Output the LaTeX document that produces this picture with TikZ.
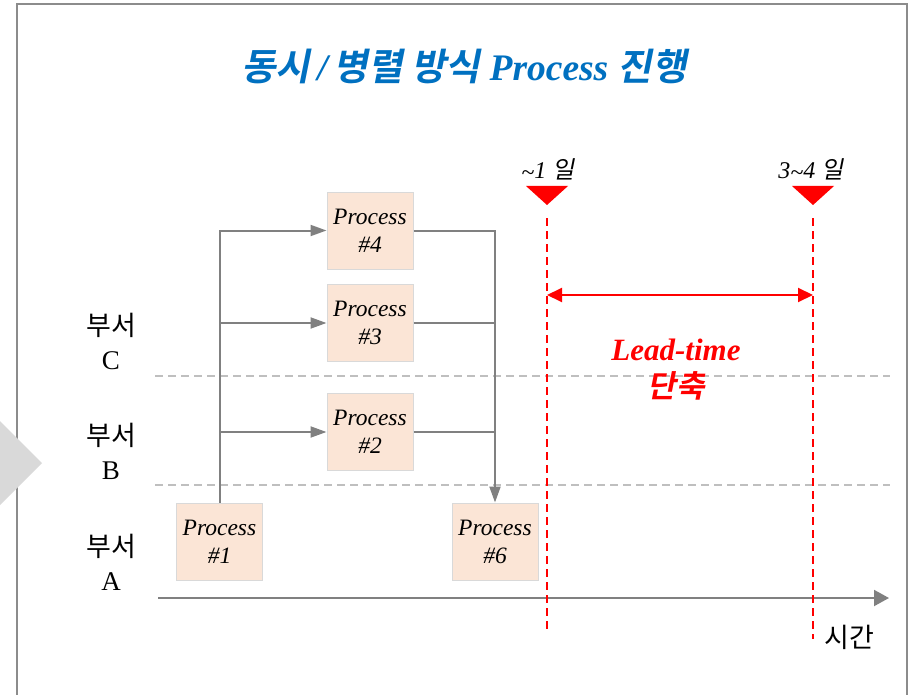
\documentclass[tikz,border=0pt]{standalone}
\usepackage{fontspec}
\usetikzlibrary{arrows.meta}
\setmainfont{Liberation Serif}
\newfontfamily\krfont{Noto Sans CJK KR}
\newfontfamily\krslant[FakeSlant=0.2]{Noto Sans CJK KR}
\newfontfamily\krboldslant[FakeSlant=0.2]{Noto Sans CJK KR Bold}
\definecolor{titleblue}{HTML}{0070C0}
\definecolor{boxfill}{HTML}{FBE5D6}
\definecolor{boxline}{HTML}{D9D9D9}
\definecolor{linegray}{HTML}{808080}
\definecolor{dashgray}{HTML}{BFBFBF}
\definecolor{framegray}{HTML}{8C8C8C}
\definecolor{chevgray}{HTML}{D9D9D9}
\definecolor{leadred}{HTML}{FF0000}
\newcommand{\midtilde}{\raisebox{-2pt}{\textasciitilde}}
\tikzset{
  proc/.style={draw=boxline, line width=1pt, fill=boxfill, minimum width=86pt,
    minimum height=77pt, inner sep=0pt, align=center,
    font=\fontsize{23.5}{28}\selectfont\itshape},
  lane/.style={align=center, inner sep=0pt, font=\fontsize{27}{34}\selectfont},
  conn/.style={draw=linegray, line width=2pt},
  connarrow/.style={conn, -{Triangle[length=16pt,width=11pt]}},
  lanesep/.style={draw=dashgray, line width=1.6pt, dash pattern=on 8pt off 5pt},
  reddash/.style={draw=leadred, line width=2pt, dash pattern=on 8pt off 5pt},
  marklabel/.style={inner sep=0pt, font=\fontsize{24}{28}\selectfont\itshape},
}
\begin{document}
\begin{tikzpicture}[x=1pt,y=-1pt]
\useasboundingbox (0,0) rectangle (912,695);

% slide frame, open at the bottom
\draw[framegray, line width=2.2pt] (17,697) -- (17,4) -- (907,4) -- (907,697);
% chevron on the left edge
\fill[chevgray] (0,421) -- (42,463) -- (0,505) -- cycle;

% title
\node[inner sep=0pt] (title) at (464,66)
  {\fontsize{37.5}{44}\selectfont\color{titleblue}%
   {\krboldslant 동시}\kern7pt{\bfseries\itshape/}\kern6pt{\krboldslant 병렬 방식}
   {\bfseries\itshape Process} {\krboldslant 진행}};

% department separators
\draw[lanesep] (155,376) -- (890,376);
\draw[lanesep] (155,485) -- (890,485);

% department labels
\node[lane] (laneC) at (111,341) {{\krfont 부서}\\C};
\node[lane] (laneB) at (111,451) {{\krfont 부서}\\B};
\node[lane] (laneA) at (111,562) {{\krfont 부서}\\A};

% time axis
\coordinate (axisL) at (158,598);
\coordinate (axisR) at (889,598);
\draw[conn, -{Triangle[length=15pt,width=16pt]}] (axisL) -- (axisR);
\node[inner sep=0pt, font=\fontsize{27}{30}\selectfont\krfont] (time) at (849,637) {시간};

% process boxes
\node[proc] (p1) at (219.5,541.5) {Process\\\#1};
\node[proc] (p4) at (370,230.5) {Process\\\#4};
\node[proc] (p3) at (370,323) {Process\\\#3};
\node[proc] (p2) at (370,432) {Process\\\#2};
\node[proc] (p6) at (495,541.5) {Process\\\#6};

% fan-out from process 1
\draw[connarrow] (p1.north) |- (p4.west);
\draw[connarrow] (p1.north |- p3.west) -- (p3.west);
\draw[connarrow] (p1.north |- p2.west) -- (p2.west);
% merge into process 6
\draw[connarrow] (p4.east) -| (p6.north);
\draw[conn] (p3.east) -- (p3.east -| p6.north);
\draw[conn] (p2.east) -- (p2.east -| p6.north);

% lead-time markers
\coordinate (m1) at (547,186);
\coordinate (m2) at (813,186);
\fill[leadred] (m1) ++(-21,0) -- ++(42,0) -- ++(-21,19) -- cycle;
\fill[leadred] (m2) ++(-21,0) -- ++(42,0) -- ++(-21,19) -- cycle;
\node[marklabel] (l1) at (548,170) {\midtilde1 {\krslant 일}};
\node[marklabel] (l2) at (811,170) {3\midtilde4 {\krslant 일}};

\coordinate (d1top) at (547,218);
\coordinate (d1bot) at (547,632);
\coordinate (d2top) at (813,218);
\coordinate (d2bot) at (813,639);
\draw[reddash] (d1top) -- (d1bot);
\draw[reddash] (d2top) -- (d2bot);

\coordinate (span1) at (547,295);
\coordinate (span2) at (813,295);
\draw[leadred, line width=2pt,
  {Triangle[length=15pt,width=14pt]}-{Triangle[length=15pt,width=14pt]}] (span1) -- (span2);

\node[inner sep=0pt, align=center, text=leadred,
  font=\fontsize{31}{37}\selectfont] (lead) at (676,370)
  {{\bfseries\itshape Lead-time}\\{\krboldslant 단축}};
\end{tikzpicture}
\end{document}
